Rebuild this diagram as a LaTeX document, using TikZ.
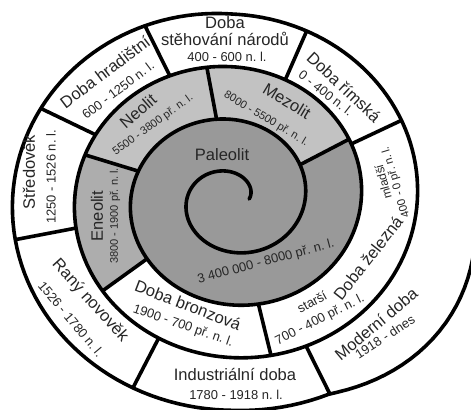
\documentclass[tikz,border=0pt]{standalone}
\usepackage{fontspec}
\setmainfont{Liberation Sans}
\frenchspacing
\definecolor{paleo}{gray}{0.6}
\definecolor{mezo}{gray}{0.76}
\definecolor{eneo}{gray}{0.68}
\begin{document}
\begin{tikzpicture}[x=0.75pt,y=-0.75pt,
    declare function={
      bmp(\t)=(\t>1170)*(\t<1350)*6*cos(\t-1260)+(\t>1375)*(\t<1440)*15*sin((\t-1375)*2.769);
      rx(\t)=17.1+\t/360*56.1+bmp(\t);
      ry(\t)=13.7+\t/360*52.7+bmp(\t);
      px(\t)=232+rx(\t)*cos(\t);
      py(\t)=199-ry(\t)*sin(\t);
    },
    eralbl/.style={font=\fontsize{12.4}{13}\selectfont,text=black!85,inner sep=0pt},
    datelbl/.style={font=\fontsize{9.7}{12}\selectfont,text=black!85,inner sep=0pt},
    grydate/.style={font=\fontsize{8.3}{10}\selectfont,text=black!85,inner sep=0pt},
    smalllbl/.style={font=\fontsize{8.5}{10}\selectfont,text=black!85,inner sep=0pt},
    spiral/.style={line width=2.7pt,line cap=round,line join=round}]

    \fill[white] (0,0) rectangle (471,410);
    \clip (0,0) rectangle (471,410);

    % šedá pole (paleolit až eneolit)
    \fill[paleo] plot[domain=389:749,samples=120,variable=\t] ({px(\t)},{py(\t)}) -- cycle;
    \foreach \a/\b/\c in {389/460/mezo,460/522/mezo,522/577.5/eneo} {
        \pgfmathsetmacro\ao{\a+360}
        \pgfmathsetmacro\bo{\b+360}
        \fill[\c] plot[domain=\a:\b,samples=30,variable=\t] ({px(\t)},{py(\t)})
            -- plot[domain=\bo:\ao,samples=30,variable=\t] ({px(\t)},{py(\t)}) -- cycle;
    }

    % spirála
    \draw[spiral] plot[domain=0:1437,samples=600,variable=\t] ({px(\t)},{py(\t)});

    % dělicí čáry mezi obdobími
    \foreach \a [count=\i] in {389,460,522,577.5,643,746.6,787.6,835,873,911.4,964,1015} {
        \pgfmathsetmacro\b{\a+360}
        \coordinate (in\i) at ({px(\a)},{py(\a)});
        \coordinate (out\i) at ({px(\b)},{py(\b)});
        \draw[spiral,line cap=butt] (in\i) -- (out\i);
    }

    % popisky
    \node[eralbl] (paleolit) at (222,155) {Paleolit};
    \node[datelbl,rotate=15] (paleolit-d) at (266,262) {3 400 000 - 8000 př. n. l.};
    \node[eralbl,rotate=-31] (mezolit) at (287,101) {Mezolit};
    \node[grydate,rotate=-31] (mezolit-d) at (266,119) {8000 - 5500 př. n. l.};
    \node[eralbl,rotate=41] (neolit) at (138,111) {Neolit};
    \node[grydate,rotate=36] (neolit-d) at (153,125) {5500 - 3800 př. n. l.};
    \node[eralbl,rotate=90] (eneolit) at (97,216) {Eneolit};
    \node[grydate,rotate=90] (eneolit-d) at (115,216) {3800 - 1900 př. n. l.};
    \node[eralbl,rotate=-21] (bronzova) at (188,305) {Doba bronzová};
    \node[datelbl,rotate=-19] (bronzova-d) at (183,326) {1900 - 700 př. n. l.};
    \node[datelbl,rotate=29] (starsi) at (312,302) {starší};
    \node[eralbl,rotate=52] (zelezna) at (368,258) {Doba železná};
    \node[datelbl,rotate=27] (zelezna-d) at (320,320) {700 - 400 př. n. l.};
    \node[smalllbl,font=\fontsize{9}{10}\selectfont,rotate=105] (mladsi) at (383,182) {mladší};
    \node[smalllbl,rotate=107] (mladsi-d) at (396,182) {400 - 0 př. n. l.};
    \node[eralbl,rotate=-43] (rimska) at (344,87) {Doba římská};
    \node[datelbl,rotate=-38] (rimska-d) at (326,93) {0 - 400 n. l.};
    \node[eralbl,align=center] (stehovani) at (225,31) {Doba\\stěhování národů};
    \node[datelbl] (stehovani-d) at (227,57) {400 - 600 n. l.};
    \node[eralbl,rotate=37] (hradistni) at (105,72) {Doba hradištní};
    \node[datelbl,rotate=37] (hradistni-d) at (118,90) {600 - 1250 n. l.};
    \node[eralbl,rotate=90] (stredovek) at (29,172) {Středověk};
    \node[datelbl,rotate=90] (stredovek-d) at (51,177) {1250 - 1526 n. l.};
    \node[eralbl,rotate=-48] (novovek) at (90,301) {Raný novověk};
    \node[datelbl,rotate=-50] (novovek-d) at (71,319) {1526 - 1780 n. l.};
    \node[eralbl] (industrialni) at (235,374) {Industriální doba};
    \node[datelbl] (industrialni-d) at (236,395) {1780 - 1918 n. l.};
    \node[eralbl,rotate=40] (moderni) at (376,324) {Moderní doba};
    \node[datelbl,rotate=33] (moderni-d) at (385,337) {1918 - dnes};
\end{tikzpicture}
\end{document}
